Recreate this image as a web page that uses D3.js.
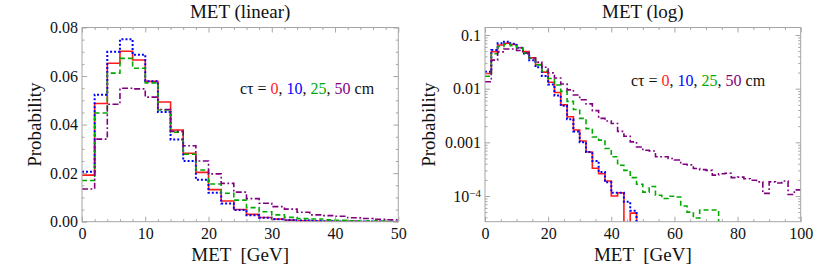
<!DOCTYPE html>
<html lang="en">
<head>
<meta charset="utf-8">
<title>MET (linear / log)</title>
<script src="https://cdn.jsdelivr.net/npm/d3@7"></script>
<style>
  body { margin: 0; background: white; }
  text { font-family: "Liberation Serif", "Times New Roman", Tinos, "Nimbus Roman", "DejaVu Serif", "Noto Serif", serif; }
</style>
</head>
<body>
<svg id="chart" width="831" height="269"></svg>
<script>
// bins of 2 GeV, lower edges
var binWidth = 2;
var binStart = d3.range(0, 100, binWidth);

// c tau = 0 cm
var ct0 = [0.0192, 0.0487, 0.0653, 0.0702, 0.0666, 0.0578, 0.0493, 0.0378, 0.0282, 0.0203,
           0.0132, 0.0085, 0.0050, 0.0030, 0.0017, 0.00106, 0.00066, 0.00033, 0.00026, 0.00019,
           0.00010, 0.000115, 0, 0.000048, 0, 0, 0, 0, 0, 0,
           0, 0, 0, 0, 0, 0, 0, 0, 0, 0,
           0, 0, 0, 0, 0, 0, 0, 0, 0, 0];
// c tau = 10 cm
var ct10 = [0.0206, 0.0523, 0.0700, 0.0752, 0.0688, 0.0579, 0.0452, 0.0339, 0.0250, 0.0173,
            0.0119, 0.0075, 0.0048, 0.0027, 0.0016, 0.0010, 0.00066, 0.00045, 0.00028, 0.00018,
            0.000115, 0.000115, 0.000078, 0.000053, 0, 0, 0, 0, 0, 0,
            0, 0, 0, 0, 0, 0, 0, 0, 0, 0,
            0, 0, 0, 0, 0, 0, 0, 0, 0, 0];
// c tau = 25 cm
var ct25 = [0.0170, 0.0448, 0.0612, 0.0673, 0.0632, 0.0572, 0.0460, 0.0369, 0.0278, 0.0213,
            0.0155, 0.0117, 0.0089, 0.0058, 0.0041, 0.0028, 0.0018, 0.00126, 0.0011, 0.00077,
            0.00054, 0.000375, 0.00030, 0.00022, 0.000166, 0.000118, 0.00015, 0.000103, 0.00009, 0.000099,
            0.000096, 0.000065, 0.000050, 0.000039, 0.000055, 0.000055, 0.000055, 0, 0, 0,
            0, 0, 0, 0, 0, 0, 0, 0, 0, 0];
// c tau = 50 cm
var ct50 = [0.0135, 0.0340, 0.0484, 0.0550, 0.0547, 0.0513, 0.0462, 0.0372, 0.0313, 0.0250,
            0.0197, 0.0158, 0.0122, 0.0095, 0.0076, 0.0062, 0.0052, 0.0039, 0.0028, 0.0025,
            0.00224, 0.0016, 0.0013, 0.00102, 0.00082, 0.00071, 0.00069, 0.00054, 0.00054, 0.00050,
            0.00047, 0.00039, 0.00038, 0.000325, 0.00031, 0.00030, 0.000245, 0.00026, 0.000265, 0.00022,
            0.000225, 0.00021, 0.000197, 0.000183, 0.000112, 0.000183, 0.000175, 0.00019, 0.000107, 0.00013];

var seriesNames = ["0", "10", "25", "50"];
var seriesColors = ["#ff1a1a", "#0000ff", "#00aa00", "#800080"];
var seriesDash = ["none", "2,2", "5,3", "6,2.5,1.8,2.5"];
var seriesWidth = [1.6, 2, 1.6, 1.6];
var seriesValues = [ct0, ct10, ct25, ct50];

var linXTicks = [0, 10, 20, 30, 40, 50];
var linYTicks = [0, 0.02, 0.04, 0.06, 0.08];
var logXTicks = [0, 20, 40, 60, 80, 100];
var logYTicks = [0.1, 0.01, 0.001, 1e-4];

var svg = d3.select("#chart");
var top_ = 27.5, bottom_ = 221.7;

function drawPanel(opt) {
  var w = opt.right - opt.left, h = bottom_ - top_;
  var g = svg.append("g").attr("transform", "translate(" + opt.left + "," + top_ + ")");

  var x = d3.scaleLinear().domain(opt.xDomain).range([0, w]);
  var y = opt.log ? d3.scaleLog().domain(opt.yDomain).range([h, 0])
                  : d3.scaleLinear().domain(opt.yDomain).range([h, 0]);

  var clipId = "clip" + opt.id;
  g.append("clipPath").attr("id", clipId)
    .append("rect").attr("x", 0).attr("y", -1).attr("width", w).attr("height", h + 1);

  // series as step outlines
  var line = d3.line()
    .x(function(d) { return x(d[0]); })
    .y(function(d) { return y(opt.log ? Math.max(d[1], 1e-7) : d[1]); })
    .curve(d3.curveStepAfter);

  var nb = binStart.filter(function(s) { return s < opt.xDomain[1]; }).length;
  seriesValues.forEach(function(vals, si) {
    var pts = [];
    for (var i = 0; i < nb; i++) pts.push([binStart[i], vals[i]]);
    pts.push([binStart[nb - 1] + binWidth, vals[nb - 1]]);
    g.append("path")
      .attr("clip-path", "url(#" + clipId + ")")
      .attr("d", line(pts))
      .attr("fill", "none")
      .attr("stroke", seriesColors[si])
      .attr("stroke-width", seriesWidth[si])
      .attr("stroke-dasharray", seriesDash[si]);
  });

  // frame
  g.append("rect").attr("width", w).attr("height", h)
    .attr("fill", "none").attr("stroke", "#a6a6a6").attr("stroke-width", 1);

  function clean(sel) {
    sel.select(".domain").remove();
    sel.attr("font-family", null).attr("font-size", 16);
    sel.selectAll("line").attr("stroke", "#a6a6a6");
    sel.selectAll("text").attr("fill", "#111");
  }

  var xMinor = d3.range(opt.xDomain[0], opt.xDomain[1] + 0.001, opt.xMinorStep)
    .filter(function(v) { return opt.xTicks.indexOf(v) < 0; });
  var yMinor;
  if (opt.log) {
    yMinor = [];
    for (var e = -5; e <= -1; e++)
      for (var m = 2; m <= 9; m++) {
        var v = m * Math.pow(10, e);
        if (v > opt.yDomain[0] && v < opt.yDomain[1]) yMinor.push(v);
      }
  } else {
    yMinor = d3.range(0, opt.yDomain[1] + 1e-9, 0.005)
      .filter(function(v) { return Math.abs((v / 0.02) - Math.round(v / 0.02)) > 1e-6; });
  }

  // labelled sides
  g.append("g").attr("transform", "translate(0," + h + ")")
    .call(d3.axisBottom(x).tickValues(opt.xTicks).tickSizeInner(-5).tickSizeOuter(0).tickPadding(6))
    .call(clean);
  var yAxis = g.append("g")
    .call(d3.axisLeft(y).tickValues(opt.yTicks).tickSizeInner(-5).tickSizeOuter(0).tickPadding(4)
      .tickFormat(opt.yFormat))
    .call(clean);
  // minor and opposite-side ticks
  g.append("g").attr("transform", "translate(0," + h + ")")
    .call(d3.axisBottom(x).tickValues(xMinor).tickSizeInner(-2.5).tickSizeOuter(0).tickFormat(""))
    .call(clean);
  g.append("g")
    .call(d3.axisTop(x).tickValues(opt.xTicks).tickSizeInner(-5).tickSizeOuter(0).tickFormat(""))
    .call(clean);
  g.append("g")
    .call(d3.axisTop(x).tickValues(xMinor).tickSizeInner(-2.5).tickSizeOuter(0).tickFormat(""))
    .call(clean);
  g.append("g")
    .call(d3.axisLeft(y).tickValues(yMinor).tickSizeInner(-2.5).tickSizeOuter(0).tickFormat(""))
    .call(clean);
  g.append("g").attr("transform", "translate(" + w + ",0)")
    .call(d3.axisRight(y).tickValues(opt.yTicks).tickSizeInner(-5).tickSizeOuter(0).tickFormat(""))
    .call(clean);
  g.append("g").attr("transform", "translate(" + w + ",0)")
    .call(d3.axisRight(y).tickValues(yMinor).tickSizeInner(-2.5).tickSizeOuter(0).tickFormat(""))
    .call(clean);

  if (opt.log) {
    yAxis.selectAll(".tick text").each(function(d) {
      if (d < 5e-4) {
        var t = d3.select(this).text("10");
        t.append("tspan").attr("dy", "-0.45em").attr("font-size", 11).text("\u22124");
      }
    });
  }

  // title and axis labels
  g.append("text").attr("x", w / 2).attr("y", -9.5)
    .attr("text-anchor", "middle").attr("font-size", 19).attr("fill", "#111")
    .text(opt.title);
  g.append("text").attr("x", w / 2).attr("y", h + 39.5)
    .attr("text-anchor", "middle").attr("font-size", 19).attr("fill", "#111")
    .attr("xml:space", "preserve")
    .text("MET  [GeV]");
  g.append("text")
    .attr("transform", "translate(" + (opt.yLabelX - opt.left) + "," + (h / 2) + ") rotate(-90)")
    .attr("text-anchor", "middle").attr("font-size", 19).attr("fill", "#111")
    .text("Probability");

  // legend
  var lg = g.append("text").attr("x", opt.legendX - opt.left).attr("y", opt.legendY - top_)
    .attr("font-size", 16).attr("fill", "#111");
  lg.append("tspan").text("c\u03c4 = ");
  seriesNames.forEach(function(n, i) {
    lg.append("tspan").attr("fill", seriesColors[i]).text(n);
    lg.append("tspan").text(i < seriesNames.length - 1 ? ", " : " cm");
  });
}

drawPanel({
  id: "lin", left: 82, right: 398.3, title: "MET (linear)",
  xDomain: [0, 50], yDomain: [0, 0.08], log: false,
  xTicks: linXTicks, xMinorStep: 2, yTicks: linYTicks,
  yFormat: d3.format(".2f"), yLabelX: 41,
  legendX: 240, legendY: 93.5
});
drawPanel({
  id: "log", left: 485, right: 800.7, title: "MET (log)",
  xDomain: [0, 100], yDomain: [3.32e-5, 0.138], log: true,
  xTicks: logXTicks, xMinorStep: 5, yTicks: logYTicks,
  yFormat: function(d) { return d < 5e-4 ? "" : String(+d.toPrecision(1)); }, yLabelX: 435,
  legendX: 631, legendY: 85.5
});
</script>
</body>
</html>
